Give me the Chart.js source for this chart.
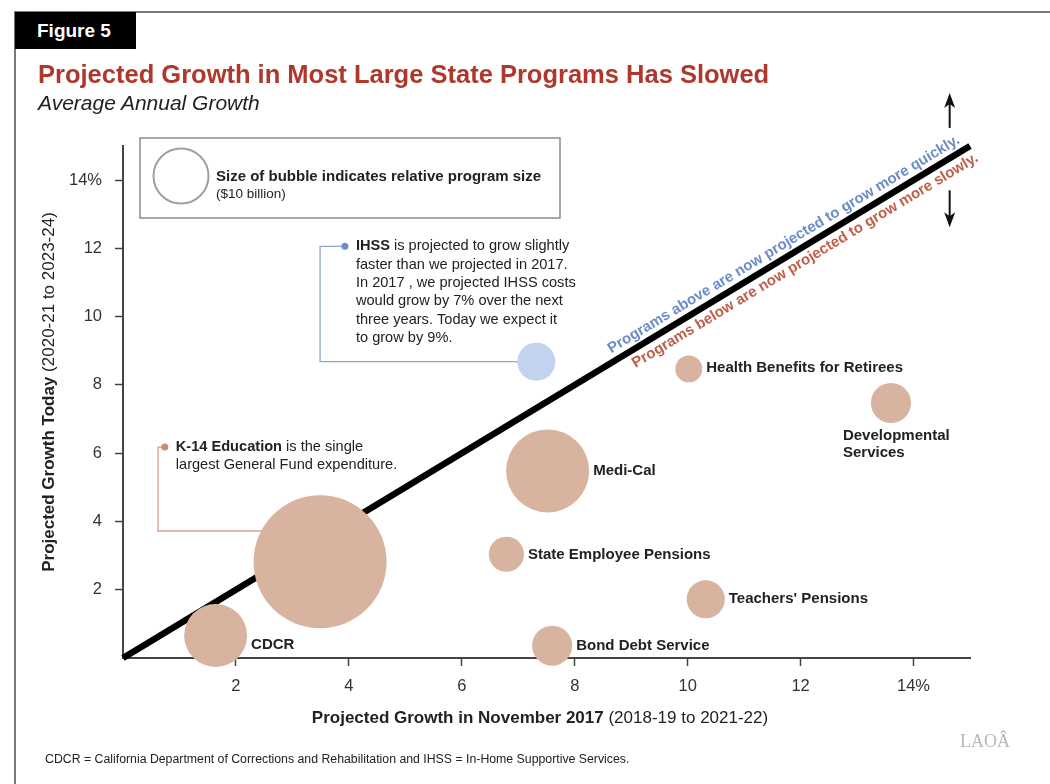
<!DOCTYPE html>
<html>
<head>
<meta charset="utf-8">
<script src="https://cdn.jsdelivr.net/npm/chart.js@4.4.1/dist/chart.umd.min.js"></script>
<style>
  html, body { margin: 0; padding: 0; background: #fff; }
  body { width: 1050px; height: 784px; position: relative; overflow: hidden;
         font-family: "Liberation Sans", Arial, Helvetica, sans-serif; }
  #frame-left { position: absolute; left: 14px; top: 11px; width: 2px; height: 780px; background: #7a7a7a; }
  #frame-top { position: absolute; left: 14px; top: 11px; width: 1040px; height: 2px; background: #7a7a7a; }
  #fig { position: absolute; left: 15px; top: 12px; width: 121px; height: 37px; background: #000;
         color: #fff; font-weight: bold; font-size: 19px; line-height: 37px; padding-left: 22px; box-sizing: border-box; }
  #title { position: absolute; left: 38px; top: 60px; font-size: 25.5px; font-weight: bold; color: #b0372b; white-space: nowrap; }
  #subtitle { position: absolute; left: 38px; top: 91px; font-size: 21px; font-style: italic; color: #222; white-space: nowrap; }
  #note { position: absolute; left: 45px; top: 752px; font-size: 12.3px; color: #222; white-space: nowrap; }
  #logo { position: absolute; left: 960px; top: 731px; font-family: "Liberation Serif", serif; font-size: 18px; color: #b8b8b8; }
  #chart-container { position: absolute; left: 0; top: 0; width: 1050px; height: 784px; }
</style>
</head>
<body>
<div id="chart-container"><canvas id="myChart" width="1050" height="784"></canvas></div>
<div id="frame-left"></div>
<div id="frame-top"></div>
<div id="fig">Figure 5</div>
<div id="title">Projected Growth in Most Large State Programs Has Slowed</div>
<div id="subtitle">Average Annual Growth</div>
<div id="note">CDCR = California Department of Corrections and Rehabilitation and IHSS = In-Home Supportive Services.</div>
<div id="logo">LAOÂ</div>

<script>
// values
const programs = ['CDCR', 'K-14 Education', 'Medi-Cal', 'State Employee Pensions', 'Bond Debt Service',
  "Teachers' Pensions", 'Health Benefits for Retirees', 'Developmental Services', 'IHSS'];
const growth2017 = [1.64, 3.49, 7.52, 6.79, 7.6, 10.32, 10.02, 13.6, 7.32];   // % (2018-19 to 2021-22)
const growthToday = [0.66, 2.82, 5.48, 3.04, 0.36, 1.72, 8.47, 7.47, 8.68];  // % (2020-21 to 2023-24)
const programSize = [13.1, 58.5, 22.8, 4.1, 5.3, 4.8, 2.4, 5.3, 4.8];         // $ billions
const legendSize = 10;                                                        // $10 billion bubble
const parityLine = [0, 15];
const xTickValues = [2, 4, 6, 8, 10, 12, 14];
const yTickValues = [2, 4, 6, 8, 10, 12, 14];

const FONT = '"Liberation Sans", Arial, Helvetica, sans-serif';
const TAN = '#d8b4a0';
const BLUE_BUBBLE = '#c3d2ee';

// radius in px for a program size (area proportional to dollars)
const radiusFor = size => 27.5 * Math.sqrt(size / legendSize);

// how each bubble label is placed
const labelPlacement = {
  'CDCR': { side: 'right', dy: 9 },
  'Medi-Cal': { side: 'right', dy: 0 },
  'State Employee Pensions': { side: 'right', dy: 1 },
  'Bond Debt Service': { side: 'right', dy: 0 },
  "Teachers' Pensions": { side: 'right', dy: 0 },
  'Health Benefits for Retirees': { side: 'right', dy: -1 },
  'Developmental Services': { side: 'below', lines: ['Developmental', 'Services'] }
};

const callouts = [
  { target: 'IHSS', dot: [3.93, 12.06], elbowX: 3.49, color: '#8ea5d3', dotColor: '#6d8cc8',
    lines: [[['IHSS', true], [' is projected to grow slightly', false]],
            [['faster than we projected in 2017.', false]],
            [['In 2017 , we projected IHSS costs', false]],
            [['would grow by 7% over the next', false]],
            [['three years. Today we expect it', false]],
            [['to grow by 9%.', false]]] },
  { target: 'K-14 Education', dot: [0.74, 6.18], elbowX: 0.62, elbowY: 3.72, color: '#d9a08a', dotColor: '#d08a70',
    lines: [[['K-14 Education', true], [' is the single', false]],
            [['largest General Fund expenditure.', false]]] }
];

function drawRich(ctx, x, y, parts, size) {
  let cx = x;
  parts.forEach(([t, bold]) => {
    ctx.font = (bold ? 'bold ' : '') + size + 'px ' + FONT;
    ctx.fillText(t, cx, y);
    cx += ctx.measureText(t).width;
  });
  return cx - x;
}

function richWidth(ctx, parts, size) {
  let w = 0;
  parts.forEach(([t, bold]) => {
    ctx.font = (bold ? 'bold ' : '') + size + 'px ' + FONT;
    w += ctx.measureText(t).width;
  });
  return w;
}

const annotations = {
  id: 'annotations',
  beforeDatasetsDraw(chart) {
    const { ctx, scales: { x, y } } = chart;
    ctx.save();
    callouts.forEach(c => {
      const i = programs.indexOf(c.target);
      const tx = x.getPixelForValue(growth2017[i]);
      const ty = y.getPixelForValue(c.elbowY !== undefined ? c.elbowY : growthToday[i]);
      const dx = x.getPixelForValue(c.dot[0]), dy = y.getPixelForValue(c.dot[1]);
      const ex = x.getPixelForValue(c.elbowX);
      ctx.strokeStyle = c.color;
      ctx.lineWidth = 1.3;
      ctx.beginPath();
      ctx.moveTo(dx, dy);
      ctx.lineTo(ex, dy);
      ctx.lineTo(ex, ty);
      ctx.lineTo(tx, ty);
      ctx.stroke();
    });
    ctx.restore();
  },
  afterDatasetsDraw(chart) {
    const { ctx, chartArea, scales: { x, y } } = chart;
    ctx.save();

    // bubble labels
    ctx.fillStyle = '#222';
    ctx.font = 'bold 15px ' + FONT;
    programs.forEach((name, i) => {
      const p = labelPlacement[name];
      if (!p) return;
      const px = x.getPixelForValue(growth2017[i]);
      const py = y.getPixelForValue(growthToday[i]);
      const r = radiusFor(programSize[i]);
      ctx.textAlign = 'left';
      ctx.textBaseline = 'middle';
      if (p.side === 'right') {
        ctx.fillText(name, px + r + 4, py + p.dy);
      } else {
        p.lines.forEach((ln, k) => ctx.fillText(ln, px - 48, py + r + 13 + k * 17));
      }
    });

    // callout dots and text
    callouts.forEach(c => {
      const dx = x.getPixelForValue(c.dot[0]), dy = y.getPixelForValue(c.dot[1]);
      ctx.fillStyle = c.dotColor;
      ctx.beginPath();
      ctx.arc(dx, dy, 3.5, 0, Math.PI * 2);
      ctx.fill();
      ctx.fillStyle = '#222';
      ctx.textAlign = 'left';
      ctx.textBaseline = 'middle';
      c.lines.forEach((parts, k) => drawRich(ctx, dx + 11, dy + k * 18.3, parts, 14.6));
    });

    // text along the parity line
    const ang = Math.atan2(y.getPixelForValue(15) - y.getPixelForValue(0),
                           x.getPixelForValue(15) - x.getPixelForValue(0));
    const alongText = (v, off, txt, color) => {
      ctx.save();
      ctx.translate(x.getPixelForValue(v), y.getPixelForValue(v));
      ctx.rotate(ang);
      ctx.fillStyle = color;
      ctx.font = 'bold 15px ' + FONT;
      ctx.textAlign = 'left';
      ctx.textBaseline = 'alphabetic';
      ctx.fillText(txt, 0, off);
      ctx.restore();
    };
    alongText(8.72, -8, 'Programs above are now projected to grow more quickly.', '#6d8cc8');
    alongText(8.92, 17, 'Programs below are now projected to grow more slowly.', '#c0604a');

    // arrows
    const arrow = (xv, fromV, toV) => {
      const ax = x.getPixelForValue(xv);
      const y0 = y.getPixelForValue(fromV), y1 = y.getPixelForValue(toV);
      const dir = Math.sign(y1 - y0);
      ctx.strokeStyle = '#111';
      ctx.fillStyle = '#111';
      ctx.lineWidth = 2;
      ctx.beginPath();
      ctx.moveTo(ax, y0);
      ctx.lineTo(ax, y1 - dir * 8);
      ctx.stroke();
      ctx.beginPath();
      ctx.moveTo(ax, y1);
      ctx.lineTo(ax - 5.5, y1 - dir * 15);
      ctx.lineTo(ax, y1 - dir * 11);
      ctx.lineTo(ax + 5.5, y1 - dir * 15);
      ctx.closePath();
      ctx.fill();
    };
    arrow(14.64, 15.53, 16.55);
    arrow(14.64, 13.7, 12.62);

    // size legend box
    const bx = chartArea.left + 17, by = chartArea.top - 8;
    ctx.strokeStyle = '#8a8a8a';
    ctx.lineWidth = 1.5;
    ctx.strokeRect(bx, by, 420, 80);
    ctx.strokeStyle = '#a0a0a0';
    ctx.lineWidth = 2;
    ctx.beginPath();
    ctx.arc(bx + 41, by + 38, radiusFor(legendSize), 0, Math.PI * 2);
    ctx.stroke();
    ctx.fillStyle = '#222';
    ctx.textAlign = 'left';
    ctx.textBaseline = 'middle';
    ctx.font = 'bold 15px ' + FONT;
    ctx.fillText('Size of bubble indicates relative program size', bx + 76, by + 39);
    ctx.font = '13.5px ' + FONT;
    ctx.fillText('($' + legendSize + ' billion)', bx + 76, by + 56);

    // axis titles
    const xt = [['Projected Growth in November 2017', true], [' (2018-19 to 2021-22)', false]];
    const xw = richWidth(ctx, xt, 17);
    ctx.textBaseline = 'middle';
    drawRich(ctx, 540 - xw / 2, 718, xt, 17);

    const yt = [['Projected Growth Today', true], [' (2020-21 to 2023-24)', false]];
    const yw = richWidth(ctx, yt, 17);
    ctx.save();
    ctx.translate(49, 392);
    ctx.rotate(-Math.PI / 2);
    drawRich(ctx, -yw / 2, 0, yt, 17);
    ctx.restore();

    ctx.restore();
  }
};

const ctx = document.getElementById('myChart').getContext('2d');
new Chart(ctx, {
  data: {
    datasets: [
      {
        type: 'bubble',
        order: 1,
        clip: false,
        data: programs.map((p, i) => ({ x: growth2017[i], y: growthToday[i], r: radiusFor(programSize[i]) })),
        backgroundColor: programs.map(p => p === 'IHSS' ? BLUE_BUBBLE : TAN),
        borderWidth: 0,
        hoverRadius: 0
      },
      {
        type: 'line',
        order: 2,
        clip: false,
        data: parityLine.map(v => ({ x: v, y: v })),
        borderColor: '#000',
        borderWidth: 6.5,
        borderCapStyle: 'butt',
        pointRadius: 0,
        fill: false
      }
    ]
  },
  options: {
    responsive: false,
    animation: false,
    events: [],
    layout: { padding: { left: 0, top: 146, right: 80, bottom: 0 } },
    plugins: { legend: { display: false }, tooltip: { enabled: false } },
    scales: {
      x: {
        type: 'linear',
        min: 0,
        max: 15,
        afterBuildTicks: s => { s.ticks = xTickValues.map(v => ({ value: v })); },
        afterFit: s => { s.height = 126; },
        ticks: { callback: v => v === 14 ? '14%' : String(v), color: '#333', padding: 11,
                 font: { family: FONT, size: 16.5 } },
        grid: { drawOnChartArea: false, tickLength: 8, color: '#444', tickWidth: 1.5 },
        border: { color: '#444', width: 2 }
      },
      y: {
        type: 'linear',
        min: 0,
        max: 15,
        afterBuildTicks: s => { s.ticks = yTickValues.map(v => ({ value: v })); },
        afterFit: s => { s.width = 123; },
        ticks: { callback: v => v === 14 ? '14%' : String(v), color: '#333', padding: 13,
                 font: { family: FONT, size: 16.5 } },
        grid: { drawOnChartArea: false, tickLength: 8, color: '#444', tickWidth: 1.5 },
        border: { color: '#444', width: 2 }
      }
    }
  },
  plugins: [annotations]
});
</script>
</body>
</html>
